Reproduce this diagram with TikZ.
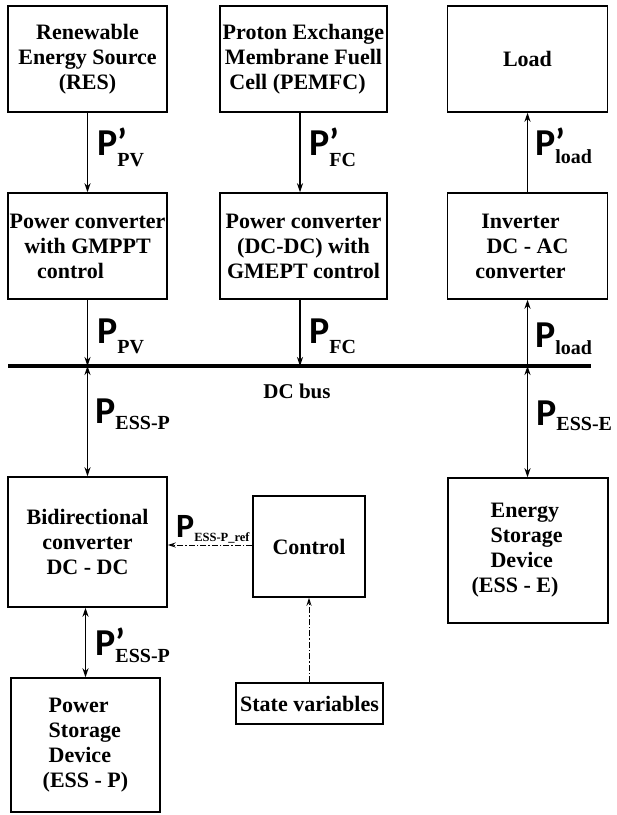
\documentclass[tikz,border=0pt]{standalone}
\usepackage{fontspec}
\setmainfont{Liberation Serif}
\newfontfamily\plab{Carlito}
\usetikzlibrary{arrows.meta}
\tikzset{
 blk/.style={draw, line width=1.5pt, align=center, font=\bfseries\fontsize{22}{25}\selectfont, inner sep=0pt},
 flow/.style={line width=1.2pt, -{Stealth[length=9pt,width=6pt]}},
 bi/.style={line width=1.2pt, {Stealth[length=9pt,width=6pt]}-{Stealth[length=9pt,width=6pt]}},
 ctl/.style={line width=1pt, dash pattern=on 6pt off 2pt on 1.5pt off 2pt, -{Stealth[length=8pt,width=5pt]}},
 lab/.style={anchor=base west, inner sep=0pt},
}
\newcommand{\PP}[2]{{\plab\bfseries\fontsize{38}{38}\selectfont P}\raisebox{-#1}{\bfseries\fontsize{20}{20}\selectfont #2}}
\newcommand{\PPr}[2]{{\plab\bfseries\fontsize{38}{38}\selectfont P\rlap{’}}\raisebox{-#1}{\bfseries\fontsize{20}{20}\selectfont #2}}
\begin{document}
\begin{tikzpicture}[x=1pt,y=-1pt]
\useasboundingbox (0,0) rectangle (617,815);
% boxes
\node[blk, minimum width=159pt, minimum height=106pt] (res) at (87.5,59) {Renewable\\Energy Source\\(RES)};
\node[blk, minimum width=167pt, minimum height=106pt] (pem) at (303.5,59) {Proton Exchange\\Membrane Fuell\\Cell (PEMFC)\hspace*{12pt}};
\node[blk, minimum width=160pt, minimum height=106pt] (load) at (527.5,59) {Load};
\node[blk, minimum width=159pt, minimum height=106pt] (pc1) at (87.5,246) {Power converter\\with GMPPT\\control\hspace*{34pt}};
\node[blk, minimum width=167pt, minimum height=106pt] (pc2) at (303.5,246) {Power converter\\(DC-DC) with\\GMEPT control};
\node[blk, minimum width=160pt, minimum height=106pt] (inv) at (527.5,246) {Inverter\hspace*{14pt}\\DC - AC\hspace*{14pt}\\converter\hspace*{14pt}};
\node[blk, minimum width=159pt, minimum height=130pt] (bid) at (87.5,542) {Bidirectional\\converter\\DC - DC};
\node[blk, minimum width=112pt, minimum height=101pt] (ctrl) at (309,546.5) {Control};
\node[blk, minimum width=160pt, minimum height=145pt, align=left] (esse) at (528,550.5) {\hspace*{19pt}Energy\\\hspace*{19pt}Storage\\\hspace*{19pt}Device\\(ESS - E)\hspace*{26pt}};
\node[blk, minimum width=149pt, minimum height=134pt, align=left] (psd) at (85.5,745) {\hspace*{6pt}Power\\\hspace*{6pt}Storage\\\hspace*{6pt}Device\\(ESS - P)};
\node[blk, minimum width=147pt, minimum height=41pt] (sv) at (309.5,703.5) {State variables};
% bus
\coordinate (bs) at (8,366);
\coordinate (be) at (591,366);
\coordinate (bL) at (87.5,366);
\coordinate (bM) at (300,366);
\coordinate (bR) at (527.5,366);
\draw[line width=4pt] (bs) -- (be);
\node[font=\bfseries\fontsize{21}{21}\selectfont] (dcbus) at (297,391) {DC bus};
% connectors
\draw[flow] (res.south) -- (pc1.north);
\draw[flow] (pem.south -| bM) -- (pc2.north -| bM);
\draw[flow] (inv.north) -- (load.south);
\draw[flow] (pc1.south) -- (bL);
\draw[flow] (pc2.south -| bM) -- (bM);
\draw[flow] (bR) -- (inv.south);
\draw[bi] (bL) -- (bid.north);
\draw[bi] (bR) -- (esse.north -| bR);
\draw[bi] (psd.north |- bid.south) -- (psd.north);
\draw[ctl] (ctrl.west |- 0,545) -- (bid.east |- 0,545);
\draw[ctl] (sv.north -| ctrl.south) -- (ctrl.south);
% labels
\node[lab] (l1) at (97,155) {\PPr{11pt}{PV}};
\node[lab] (l2) at (309,155) {\PPr{11pt}{FC}};
\node[lab] (l3) at (535,155) {\PPr{8pt}{load}};
\node[lab] (l4) at (97,343) {\PP{10pt}{PV}};
\node[lab] (l5) at (309,343) {\PP{10pt}{FC}};
\node[lab] (l6) at (535,347) {\PP{7pt}{load}};
\node[lab] (l7) at (95,423) {\PP{6pt}{ESS-P}};
\node[lab] (l8) at (536,425) {\PP{5pt}{ESS-E}};
\node[lab] (l9) at (95,655) {\PPr{7pt}{ESS-P}};
\node[lab] (l10) at (176,537) {{\plab\bfseries\fontsize{34}{34}\selectfont P}\raisebox{-4pt}{\bfseries\fontsize{12.5}{12.5}\selectfont ESS-P\_ref}};
\end{tikzpicture}
\end{document}
